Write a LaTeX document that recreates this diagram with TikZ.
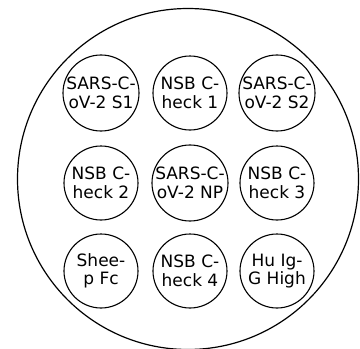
\documentclass[tikz,border=0pt]{standalone}
\usepackage{fontspec}
\setmainfont{DejaVu Sans}
\newcommand{\rad}{37}
\newcommand{\spot}[4]{
	\node [well] (#1) at (#2,#3) {#4};
	}

\begin{document}
\begin{tikzpicture}[
      x=1pt, y=-1pt,
      plate/.style={draw, circle, line width=1.2pt, minimum size=341pt, inner sep=0pt},
      well/.style={draw, circle, line width=1.1pt, minimum size=2*\rad pt, inner sep=0pt,
                   align=center, font=\fontsize{17}{18.5}\selectfont}
    ]
    \useasboundingbox (0,0) rectangle (360,349);
    % the plate
    \node [plate] (plate) at (188,179) {};
    % first row
    \spot{s1}{101}{93}{SARS-C-\\oV-2 S1};
    \spot{c1}{190}{93}{NSB C-\\heck 1};
    \spot{s2}{277}{93}{SARS-C-\\oV-2 S2};
    % second row
    \spot{c2}{101}{183}{NSB C-\\heck 2};
    \spot{np}{190}{183}{SARS-C-\\oV-2 NP};
    \spot{c3}{277}{183}{NSB C-\\heck 3};
    % third row
    \spot{fc}{101}{271}{Shee-\\p Fc};
    \spot{c4}{190}{271}{NSB C-\\heck 4};
    \spot{hu}{277}{271}{Hu Ig-\\G High};
\end{tikzpicture}
\end{document}
